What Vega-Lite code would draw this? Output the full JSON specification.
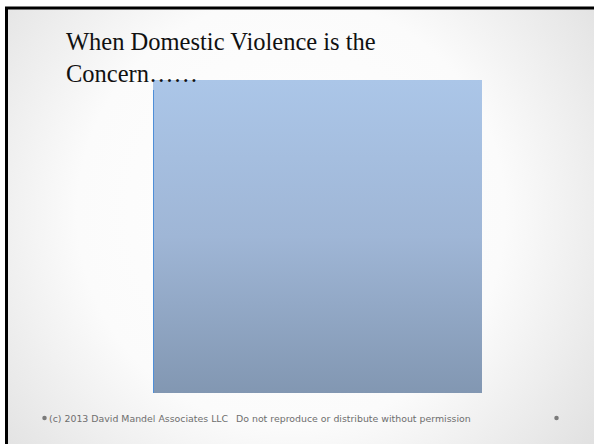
{
  "$schema": "https://vega.github.io/schema/vega-lite/v6.json",
  "width": 594,
  "height": 444,
  "autosize": {"type": "none"},
  "padding": 0,
  "background": "#ffffff",
  "config": {"view": {"stroke": null}},
  "datasets": {
    "slide": [{"part": "slide", "x": 6.5, "x2": 640, "y": 8, "y2": 480}],
    "picture": [{"part": "picture", "x": 153, "x2": 482, "y": 80, "y2": 393}],
    "edge": [{"part": "edge", "x": 153.5, "y": 90, "y2": 393}],
    "title": [
      {"line": "When Domestic Violence is the", "x": 66, "y": 50},
      {"line": "Concern……", "x": 66, "y": 82}
    ],
    "footer": [
      {"text": "(c) 2013 David Mandel Associates LLC", "x": 49, "y": 421.5},
      {"text": "Do not reproduce or distribute without permission", "x": 236, "y": 421.5}
    ],
    "bullets": [{"x": 44.5, "y": 418}, {"x": 556.5, "y": 418}]
  },
  "layer": [
    {
      "data": {"name": "slide"},
      "mark": {
        "type": "rect",
        "clip": true,
        "stroke": "#000000",
        "strokeWidth": 3,
        "fill": {
          "gradient": "radial",
          "x1": 0.45, "y1": 0.45, "r1": 0,
          "x2": 0.45, "y2": 0.45, "r2": 0.75,
          "stops": [
            {"offset": 0, "color": "#ffffff"},
            {"offset": 0.45, "color": "#fbfbfb"},
            {"offset": 1, "color": "#d2d2d2"}
          ]
        }
      },
      "encoding": {
        "x": {"field": "x", "type": "quantitative", "scale": {"domain": [0, 594], "nice": false, "zero": false}, "axis": null},
        "x2": {"field": "x2"},
        "y": {"field": "y", "type": "quantitative", "scale": {"domain": [0, 444], "nice": false, "zero": false, "reverse": true}, "axis": null},
        "y2": {"field": "y2"}
      }
    },
    {
      "data": {"name": "picture"},
      "mark": {
        "type": "rect",
        "fill": {
          "gradient": "linear",
          "x1": 0, "y1": 0, "x2": 0, "y2": 1,
          "stops": [
            {"offset": 0, "color": "#abc6e8"},
            {"offset": 0.5, "color": "#9fb6d6"},
            {"offset": 1, "color": "#8297b2"}
          ]
        }
      },
      "encoding": {
        "x": {"field": "x", "type": "quantitative"},
        "x2": {"field": "x2"},
        "y": {"field": "y", "type": "quantitative"},
        "y2": {"field": "y2"}
      }
    },
    {
      "data": {"name": "edge"},
      "mark": {"type": "rule", "color": "#4f8fd8", "strokeWidth": 1},
      "encoding": {
        "x": {"field": "x", "type": "quantitative"},
        "y": {"field": "y", "type": "quantitative"},
        "y2": {"field": "y2"}
      }
    },
    {
      "data": {"name": "title"},
      "mark": {"type": "text", "align": "left", "baseline": "alphabetic", "font": "Liberation Serif", "fontSize": 24.5, "color": "#111111"},
      "encoding": {
        "x": {"field": "x", "type": "quantitative"},
        "y": {"field": "y", "type": "quantitative"},
        "text": {"field": "line"}
      }
    },
    {
      "data": {"name": "footer"},
      "mark": {"type": "text", "align": "left", "baseline": "alphabetic", "font": "DejaVu Sans", "fontSize": 9.4, "color": "#6e6e6e"},
      "encoding": {
        "x": {"field": "x", "type": "quantitative"},
        "y": {"field": "y", "type": "quantitative"},
        "text": {"field": "text"}
      }
    },
    {
      "data": {"name": "bullets"},
      "mark": {"type": "point", "shape": "circle", "filled": true, "size": 20, "color": "#7a7a7a", "opacity": 1},
      "encoding": {
        "x": {"field": "x", "type": "quantitative"},
        "y": {"field": "y", "type": "quantitative"}
      }
    }
  ]
}
